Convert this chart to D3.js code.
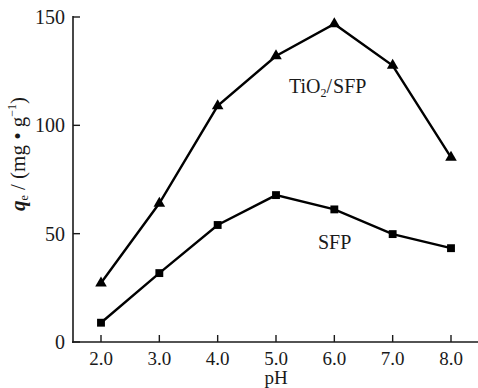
<!DOCTYPE html>
<html><head><meta charset="utf-8">
<script src="https://cdn.jsdelivr.net/npm/d3@7"></script>
<style>body{margin:0;background:#fff}svg{display:block}svg text{font-family:"Liberation Serif","Times New Roman",Times,serif}</style>
</head><body><svg id="c" width="478" height="388"></svg>
<script>
const phValues = [2.0, 3.0, 4.0, 5.0, 6.0, 7.0, 8.0];
const tio2Sfp = [27.2, 64.0, 109.0, 132.0, 146.8, 127.6, 85.2];
const sfp = [8.9, 31.8, 54.0, 67.8, 61.2, 49.8, 43.3];
const xTicks = [2.0, 3.0, 4.0, 5.0, 6.0, 7.0, 8.0];
const yTicks = [0, 50, 100, 150];

const svg = d3.select("#c");
const x = d3.scaleLinear().domain([2, 8]).range([101, 451]);
const y = d3.scaleLinear().domain([0, 150]).range([342, 17]);
const ink = "#1a1a1a";

// axes
const xAxis = svg.append("g").attr("transform", "translate(0,342)");
xAxis.append("line").attr("x1", 72).attr("x2", 478).attr("stroke", ink).attr("stroke-width", 1.6);
xTicks.forEach(t => {
  xAxis.append("line").attr("x1", x(t)).attr("x2", x(t)).attr("y1", 0).attr("y2", -7).attr("stroke", ink).attr("stroke-width", 1.4);
  xAxis.append("text").attr("x", x(t)).attr("y", 23).attr("text-anchor", "middle").attr("font-size", 19).attr("fill", ink).text(d3.format(".1f")(t));
});
const yAxis = svg.append("g").attr("transform", "translate(73,0)");
yAxis.append("line").attr("y1", 16).attr("y2", 343).attr("stroke", ink).attr("stroke-width", 1.6);
yTicks.forEach(t => {
  yAxis.append("line").attr("x1", 0).attr("x2", 7).attr("y1", y(t)).attr("y2", y(t)).attr("stroke", ink).attr("stroke-width", 1.4);
  yAxis.append("text").attr("x", -8).attr("y", y(t) + 7).attr("text-anchor", "end").attr("font-size", 20).attr("fill", ink).text(t);
});

// axis titles
svg.append("text").attr("x", 276).attr("y", 384).attr("text-anchor", "middle").attr("font-size", 19).attr("fill", ink).text("pH");
const yl = svg.append("text").attr("transform", "translate(25,154) rotate(-90)").attr("text-anchor", "middle").attr("font-size", 21).attr("fill", ink);
yl.append("tspan").attr("font-style", "italic").attr("font-weight", "bold").text("q");
yl.append("tspan").attr("font-size", 12).attr("dy", 3).text("e");
yl.append("tspan").attr("dy", -3).text(" / (mg • g");
yl.append("tspan").attr("font-size", 12).attr("dy", -9).text("−1");
yl.append("tspan").attr("dy", 9).text(")");

const line = d3.line().x(d => x(d[0])).y(d => y(d[1]));
function series(vals, shape, size) {
  const pts = phValues.map((p, i) => [p, vals[i]]);
  svg.append("path").attr("d", line(pts)).attr("fill", "none").attr("stroke", "#000").attr("stroke-width", 2.4);
  svg.selectAll(null).data(pts).enter().append("path")
    .attr("transform", d => `translate(${x(d[0])},${y(d[1])})`)
    .attr("d", d3.symbol().type(shape).size(size))
    .attr("fill", "#000");
}
series(tio2Sfp, d3.symbolTriangle, 58);
series(sfp, d3.symbolSquare, 62);

// series labels
const t1 = svg.append("text").attr("x", 289).attr("y", 93).attr("font-size", 20).attr("fill", ink);
t1.append("tspan").text("TiO");
t1.append("tspan").attr("font-size", 12).attr("dy", 4).text("2");
t1.append("tspan").attr("dy", -4).text("/");
t1.append("tspan").attr("dx", 1).text("SFP");
svg.append("text").attr("x", 318).attr("y", 249).attr("font-size", 20).attr("fill", ink).text("SFP");
</script></body></html>
